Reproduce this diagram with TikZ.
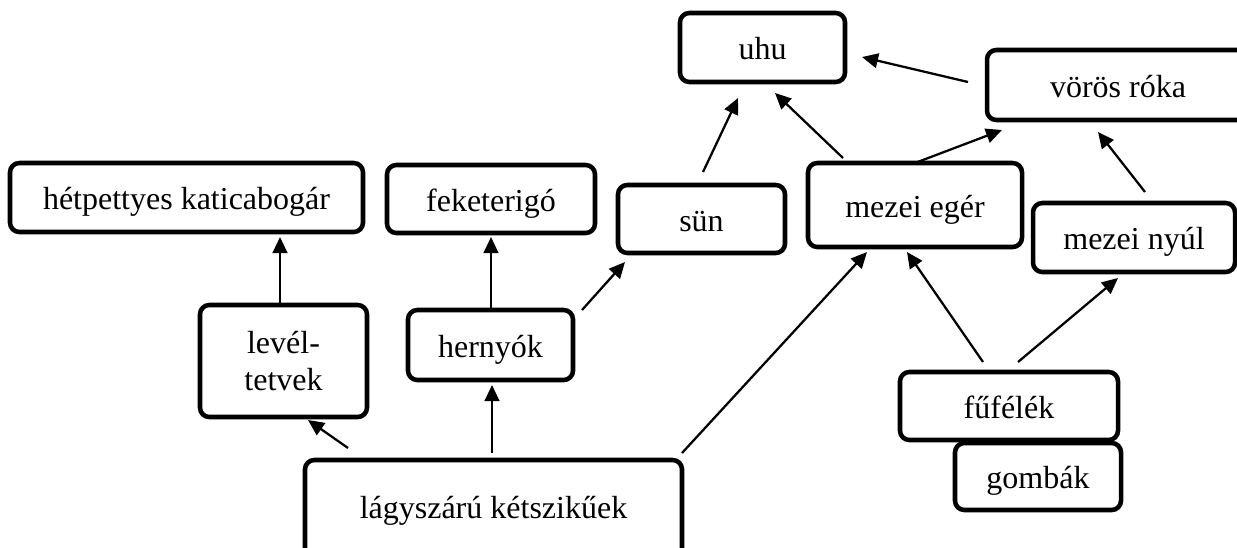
\documentclass[tikz,border=0pt]{standalone}
\usepackage{fontspec}
\setmainfont{Liberation Serif}
\usetikzlibrary{arrows.meta,calc}
\begin{document}
\begin{tikzpicture}[x=0.75pt,y=0.75pt,yscale=-1,xscale=1,
  box/.style={draw, line width=3.4pt, rounded corners=7pt, inner sep=0pt, outer sep=0pt, align=center, font=\fontsize{24}{27.75}\selectfont},
  onerow/.style={box, text height=20pt, text depth=2pt},
  arr/.style={line width=1.7pt, -{Triangle[length=12pt,width=11pt]}}]
\useasboundingbox (0,0) rectangle (1237,547);

%Shape: Rounded Rect
\node[onerow, minimum width=123.75pt, minimum height=51.75pt] (uhu) at (762.5,47.5) {uhu};
\node[onerow, minimum width=196.5pt, minimum height=52.5pt] (voros) at (1118,85) {vörös róka};
\node[onerow, minimum width=160.5pt, minimum height=63pt] (eger) at (915,205) {mezei egér};
\node[onerow, minimum width=125.25pt, minimum height=51pt] (sun) at (701.5,219) {sün};
\node[onerow, minimum width=151.5pt, minimum height=51.75pt] (nyul) at (1134,237.5) {mezei nyúl};
\node[onerow, minimum width=264.75pt, minimum height=51.75pt] (katica) at (186.5,197.5) {hétpettyes katicabogár};
\node[onerow, minimum width=156pt, minimum height=51pt] (rigo) at (491,199) {feketerigó};
\node[box, minimum width=125.25pt, minimum height=84pt] (tetu) at (283.5,361) {levél-\\tetvek};
\node[onerow, minimum width=123.75pt, minimum height=52.5pt] (hernyo) at (490.5,345) {hernyók};
\node[box, text height=16pt, text depth=4pt, minimum width=282.75pt, minimum height=75pt] (ketsziku) at (493.5,510) {lágyszárú kétszikűek};
\node[onerow, minimum width=163.5pt, minimum height=51pt] (fu) at (1009,406) {fűfélék};
\node[onerow, minimum width=124.5pt, minimum height=50.25pt] (gomba) at (1038,476.5) {gombák};

%Straight Lines
\draw[arr] ($(ketsziku.north west)+(43,-12)$) -- ($(tetu.south west)+(108,3)$);
\draw[arr] ($(ketsziku.north)+(-1.5,-7)$) -- ($(hernyo.south)+(1.5,5)$);
\draw[arr] ($(ketsziku.north east)+(0,-7)$) -- ($(eger.south)+(-48,5)$);
\draw[arr] ($(tetu.north)+(-3.5,0)$) -- ($(katica.south)+(93.5,5)$);
\draw[arr] ($(hernyo.north)+(0.5,0)$) -- ($(rigo.south)+(0,4)$);
\draw[arr] ($(hernyo.north east)+(9,0)$) -- ($(sun.south west)+(7,9)$);
\draw[arr] ($(sun.north)+(1.5,-13)$) -- ($(uhu.south)+(-24.5,16)$);
\draw[arr] ($(eger.north)+(-72,-5)$) -- ($(uhu.south)+(12.5,11)$);
\draw[arr] (eger.north) -- ($(voros.south west)+(15,10)$);
\draw[arr] ($(voros.west)+(-19,-3)$) -- ($(uhu.east)+(17,9.5)$);
\draw[arr] ($(nyul.north)+(11,-11)$) -- ($(voros.south)+(-20,12)$);
\draw[arr] ($(fu.north)+(-26,-10)$) -- ($(eger.south)+(-8,5)$);
\draw[arr] ($(fu.north)+(9,-10)$) -- ($(nyul.south)+(-16,6)$);

\end{tikzpicture}
\end{document}
